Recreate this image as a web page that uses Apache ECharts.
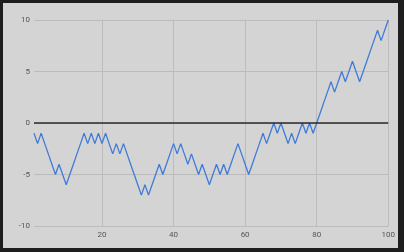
<!DOCTYPE html>
<html>
<head>
<meta charset="utf-8">
<script src="https://cdn.jsdelivr.net/npm/echarts@6/dist/echarts.min.js"></script>
<style>
html,body{margin:0;padding:0;background:#1e1e1e;width:404px;height:252px;overflow:hidden;}
#chart{position:absolute;left:3px;top:3px;width:395px;height:245px;}
</style>
</head>
<body>
<div id="chart"></div>
<script>
const steps = [];
for (let i = 1; i <= 100; i++) steps.push(i);
const values = [
  -1,-2,-1,-2,-3,-4,-5,-4,-5,-6,
  -5,-4,-3,-2,-1,-2,-1,-2,-1,-2,
  -1,-2,-3,-2,-3,-2,-3,-4,-5,-6,
  -7,-6,-7,-6,-5,-4,-5,-4,-3,-2,
  -3,-2,-3,-4,-3,-4,-5,-4,-5,-6,
  -5,-4,-5,-4,-5,-4,-3,-2,-3,-4,
  -5,-4,-3,-2,-1,-2,-1,0,-1,0,
  -1,-2,-1,-2,-1,0,-1,0,-1,0,
  1,2,3,4,3,4,5,4,5,6,
  5,4,5,6,7,8,9,8,9,10
];
const xTicks = [20, 40, 60, 80, 100];
const yTicks = [-10, -5, 0, 5, 10];

const chart = echarts.init(document.getElementById('chart'));
chart.setOption({
  backgroundColor: '#d4d4d4',
  animation: false,
  grid: { left: 31, right: 8, top: 17, bottom: 22 },
  xAxis: {
    type: 'value', min: 1, max: 100,
    axisLine: { show: false },
    axisTick: { show: false, customValues: xTicks },
    axisLabel: { customValues: xTicks, color: '#555', fontSize: 8, fontFamily: 'Roboto', margin: 5 },
    splitLine: { show: true, lineStyle: { color: '#bcbcbc', width: 1 } }
  },
  yAxis: {
    type: 'value', min: -10, max: 10, interval: 5,
    axisLine: { show: false },
    axisTick: { show: false },
    axisLabel: { color: '#555', fontSize: 8, fontFamily: 'Roboto', margin: 4 },
    splitLine: { show: true, lineStyle: { color: '#bcbcbc', width: 1 } }
  },
  series: [{
    type: 'line',
    data: steps.map((s, i) => [s, values[i]]),
    showSymbol: false,
    lineStyle: { color: '#3f7bd8', width: 1.3 },
    markLine: {
      silent: true, symbol: 'none', label: { show: false },
      lineStyle: { color: '#2a2a2a', width: 1.6, type: 'solid' },
      data: [{ yAxis: 0 }]
    },
    z: 3
  }]
});
</script>
</body>
</html>
